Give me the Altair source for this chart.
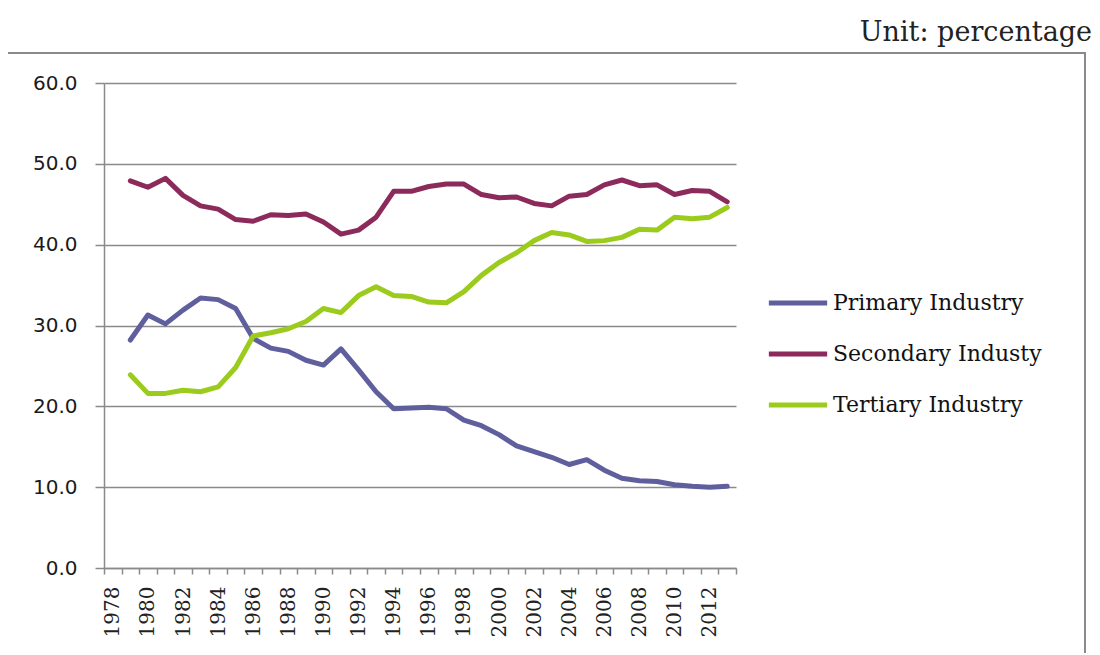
import altair as alt
import pandas as pd

# Category labels on the x axis (one slot per year)
category_labels = [str(y) for y in range(1978, 2014)]
# Slots in which the series are drawn (as in the reference, data fill slots 1979..2013)
plot_slots = category_labels[1:]

series_names = ["Primary Industry", "Secondary Industy", "Tertiary Industry"]
series_colors = ["#5F5F9E", "#8C2B5B", "#9BCB1C"]

primary = [28.2, 31.3, 30.2, 31.9, 33.4, 33.2, 32.1, 28.4, 27.2, 26.8,
           25.7, 25.1, 27.1, 24.5, 21.8, 19.7, 19.8, 19.9, 19.7, 18.3,
           17.6, 16.5, 15.1, 14.4, 13.7, 12.8, 13.4, 12.1, 11.1, 10.8,
           10.7, 10.3, 10.1, 10.0, 10.1]
secondary = [47.9, 47.1, 48.2, 46.1, 44.8, 44.4, 43.1, 42.9, 43.7, 43.6,
             43.8, 42.8, 41.3, 41.8, 43.4, 46.6, 46.6, 47.2, 47.5, 47.5,
             46.2, 45.8, 45.9, 45.1, 44.8, 46.0, 46.2, 47.4, 48.0, 47.3,
             47.4, 46.2, 46.7, 46.6, 45.3]
tertiary = [23.9, 21.6, 21.6, 22.0, 21.8, 22.4, 24.8, 28.7, 29.1, 29.6,
            30.5, 32.1, 31.6, 33.7, 34.8, 33.7, 33.6, 32.9, 32.8, 34.2,
            36.2, 37.8, 39.0, 40.5, 41.5, 41.2, 40.4, 40.5, 40.9, 41.9,
            41.8, 43.4, 43.2, 43.4, 44.6]

y_ticks = [0, 10, 20, 30, 40, 50, 60]
unit_text = "Unit: percentage"

rows = []
for name, vals in zip(series_names, [primary, secondary, tertiary]):
    for cat, v in zip(plot_slots, vals):
        rows.append({"cat": cat, "series": name, "value": v})
df = pd.DataFrame(rows)

grey = "#8a8a8a"

lines = alt.Chart(df).mark_line(strokeWidth=5, strokeCap="round", strokeJoin="round").encode(
    x=alt.X("cat:N",
            scale=alt.Scale(type="band", domain=category_labels, paddingInner=0, paddingOuter=0),
            bandPosition=0.5,
            axis=alt.Axis(title=None, labelAngle=-90, tickBand="extent", tickSize=6,
                          labelPadding=12, labelOverlap=False,
                          labelExpr="toNumber(datum.value) % 2 == 0 ? datum.value : ''",
                          labelFont="DejaVu Serif", labelFontSize=20, labelColor="#222222",
                          domainColor=grey, domainWidth=1.5, tickColor=grey, tickWidth=1.5,
                          grid=False)),
    y=alt.Y("value:Q",
            scale=alt.Scale(domain=[0, 60], nice=False),
            axis=alt.Axis(title=None, values=y_ticks, format=".1f", tickSize=9,
                          labelPadding=18, labelFont="DejaVu Sans", labelFontSize=20,
                          labelColor="#1a1a1a", domainColor=grey, domainWidth=1.5,
                          tickColor=grey, tickWidth=1.5, grid=True, gridColor=grey,
                          gridWidth=1.5)),
    color=alt.Color("series:N",
                    scale=alt.Scale(domain=series_names, range=series_colors),
                    sort=series_names,
                    legend=alt.Legend(title=None, orient="none", legendX=662, legendY=188,
                                      symbolType="stroke", symbolSize=3400,
                                      symbolStrokeWidth=5, labelFont="DejaVu Serif",
                                      labelFontSize=22, labelColor="#111111", labelLimit=400,
                                      labelOffset=3, rowPadding=8, padding=0)),
)

note = pd.DataFrame({"t": [unit_text]})
unit = alt.Chart(note).mark_text(font="DejaVu Serif", fontSize=27, align="right",
                                 baseline="alphabetic", color="#222222").encode(
    text="t:N", x=alt.value(988), y=alt.value(-42))

frame = alt.Chart(note).mark_rect(fill="transparent", stroke=grey, strokeWidth=2).encode(
    x=alt.value(-97), x2=alt.value(981), y=alt.value(-30), y2=alt.value(700))

chart = alt.layer(frame, lines, unit).properties(
    width=632, height=485,
    background="white",
    autosize=alt.AutoSizeParams(type="none"),
    padding={"left": 96, "top": 75, "right": 356, "bottom": 85},
).configure_view(strokeWidth=0, stroke="transparent")

chart.save("out.html", embed_options={"renderer": "svg", "actions": False})
